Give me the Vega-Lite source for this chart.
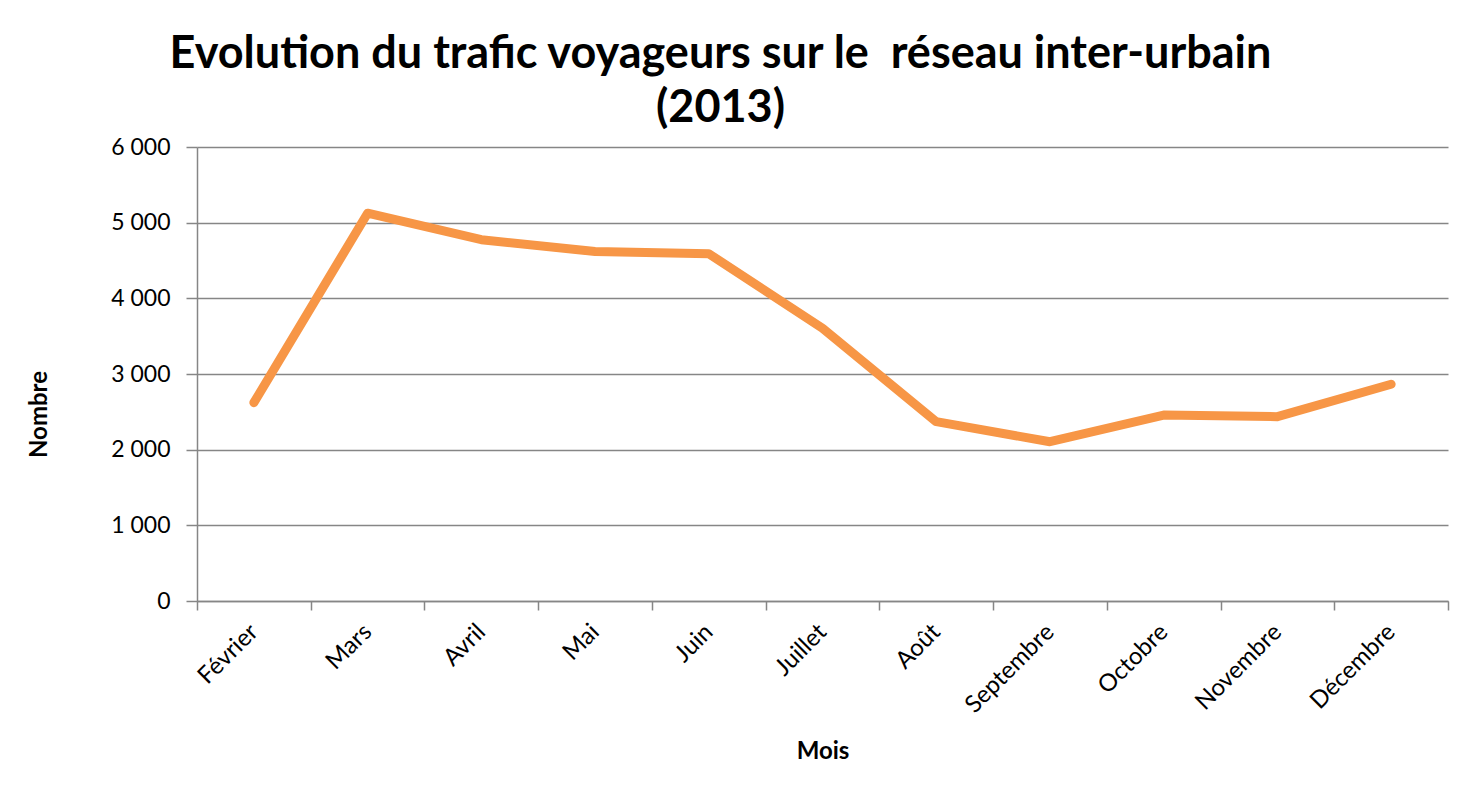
{
  "$schema": "https://vega.github.io/schema/vega-lite/v6.json",
  "autosize": "none",
  "width": 1251,
  "height": 454,
  "padding": {"left": 197, "top": 147, "right": 15, "bottom": 210},
  "background": "white",
  "title": {
    "text": ["Evolution du trafic voyageurs sur le \u00a0réseau inter-urbain", "(2013)"],
    "font": "Lato",
    "fontSize": 45,
    "fontWeight": "bold",
    "color": "#000000",
    "anchor": "middle",
    "dx": -102,
    "lineHeight": 54,
    "offset": 5
  },
  "data": {
    "values": [
      {"mois": "Février", "nombre": 2621},
      {"mois": "Mars", "nombre": 5125},
      {"mois": "Avril", "nombre": 4775},
      {"mois": "Mai", "nombre": 4620},
      {"mois": "Juin", "nombre": 4590},
      {"mois": "Juillet", "nombre": 3605},
      {"mois": "Août", "nombre": 2370},
      {"mois": "Septembre", "nombre": 2105},
      {"mois": "Octobre", "nombre": 2458},
      {"mois": "Novembre", "nombre": 2436},
      {"mois": "Décembre", "nombre": 2864}
    ]
  },
  "mark": {"type": "line", "color": "#F79646", "strokeWidth": 9, "strokeCap": "round", "strokeJoin": "round"},
  "encoding": {
    "x": {
      "field": "mois",
      "type": "ordinal",
      "sort": null,
      "bandPosition": 0.5,
      "scale": {"type": "band", "paddingInner": 0, "paddingOuter": 0},
      "axis": {
        "title": "Mois",
        "titleFont": "Lato",
        "titleFontSize": 24,
        "titleFontWeight": "bold",
        "titleColor": "#000000",
        "titleY": 157,
        "titleBaseline": "alphabetic",
        "tickBand": "extent",
        "tickSize": 9,
        "tickColor": "#868686",
        "tickWidth": 1.5,
        "domainColor": "#868686",
        "domainWidth": 1.5,
        "grid": false,
        "labelAngle": -45,
        "labelAlign": "right",
        "labelBaseline": "middle",
        "labelFont": "Lato",
        "labelFontSize": 24,
        "labelColor": "#000000",
        "labelPadding": 18
      }
    },
    "y": {
      "field": "nombre",
      "type": "quantitative",
      "scale": {"domain": [0, 6000], "nice": false},
      "axis": {
        "title": "Nombre",
        "titleFont": "Lato",
        "titleFontSize": 24,
        "titleFontWeight": "bold",
        "titleColor": "#000000",
        "titleAngle": -90,
        "titleX": -158,
        "titleY": 267,
        "titleAlign": "center",
        "titleBaseline": "middle",
        "values": [0, 1000, 2000, 3000, 4000, 5000, 6000],
        "labelExpr": "replace(format(datum.value, ','), ',', ' ')",
        "labelFont": "Lato",
        "labelFontSize": 23,
        "labelColor": "#000000",
        "labelPadding": 16,
        "tickSize": 11,
        "tickColor": "#868686",
        "tickWidth": 1.5,
        "domainColor": "#868686",
        "domainWidth": 1.5,
        "grid": true,
        "gridColor": "#868686",
        "gridWidth": 1.5
      }
    }
  },
  "config": {"view": {"stroke": null}}
}
